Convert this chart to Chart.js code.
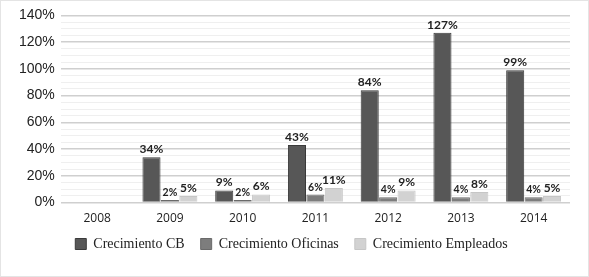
<!DOCTYPE html>
<html>
<head>
<meta charset="utf-8">
<script src="https://cdn.jsdelivr.net/npm/chart.js@4/dist/chart.umd.min.js"></script>
<style>
  html, body { margin: 0; padding: 0; background: #fff; }
  #wrap { position: relative; width: 589px; height: 277px; box-sizing: border-box; border: 1px solid #e4e4e4; }
</style>
</head>
<body>
<div id="wrap"><canvas id="c"></canvas></div>
<script>
const years = ["2008", "2009", "2010", "2011", "2012", "2013", "2014"];
const crecimientoCB = [null, 34, 9, 43, 84, 127, 99];
const crecimientoOficinas = [null, 2, 2, 6, 4, 4, 4];
const crecimientoEmpleados = [null, 5, 6, 11, 9, 8, 5];

// dibuja los porcentajes encima de cada barra
const barLabels = {
    id: "barLabels",
    afterDatasetsDraw(chart) {
        const ctx = chart.ctx;
        ctx.save();
        ctx.fillStyle = "#222";
        ctx.textAlign = "center";
        ctx.textBaseline = "bottom";
        chart.data.datasets.forEach((ds, i) => {
            const meta = chart.getDatasetMeta(i);
            ctx.font = (i === 1 ? "bold 10.5px" : "bold 12px") + " Lato, sans-serif";
            meta.data.forEach((bar, j) => {
                const v = ds.data[j];
                if (v === null) return;
                ctx.fillText(v + "%", bar.x, bar.y - 2);
            });
        });
        ctx.restore();
    },
};

// la leyenda necesita más espacio horizontal que vertical: se sube un poco
const legendShift = {
    id: "legendShift",
    afterLayout(chart) {
        chart.legend.top -= 14;
        chart.legend.bottom -= 14;
    },
};

new Chart(document.getElementById("c"), {
    type: "bar",
    data: {
        labels: years,
        datasets: [
            {
                label: "Crecimiento CB",
                data: crecimientoCB,
                backgroundColor: "#575757",
                borderColor: "#3a3a3a",
                borderWidth: 1,
            },
            {
                label: "Crecimiento Oficinas",
                data: crecimientoOficinas,
                backgroundColor: "#7d7d7d",
                borderColor: "#6a6a6a",
                borderWidth: 1,
            },
            {
                label: "Crecimiento Empleados",
                data: crecimientoEmpleados,
                backgroundColor: "#d2d2d2",
                borderColor: "#c6c6c6",
                borderWidth: 1,
            },
        ],
    },
    options: {
        animation: false,
        maintainAspectRatio: false,
        responsive: true,
        layout: { padding: { top: 8, right: 18, left: 12, bottom: 1 } },
        datasets: {
            bar: { categoryPercentage: 0.76, barPercentage: 0.98 },
        },
        plugins: {
            tooltip: { enabled: false },
            legend: {
                position: "bottom",
                maxHeight: 40,
                labels: {
                    font: { family: "'Liberation Serif', serif", size: 14 },
                    color: "#222",
                    boxWidth: 11,
                    boxHeight: 11,
                    padding: 16,
                },
            },
        },
        scales: {
            x: {
                grid: { display: false, drawTicks: false },
                border: { display: false },
                ticks: {
                    font: { family: "'Open Sans', sans-serif", size: 12 },
                    color: "#222",
                    padding: 9,
                },
            },
            y: {
                min: 0,
                max: 140,
                border: { display: false },
                grid: {
                    color: (c) => (c.tick && c.tick.value % 20 === 0 ? "#cfcfcf" : "#efefef"),
                    lineWidth: (c) => (c.tick && c.tick.value % 20 === 0 ? 1.5 : 1),
                    drawTicks: false,
                },
                ticks: {
                    stepSize: 5,
                    autoSkip: false,
                    padding: 6,
                    font: { family: "'Liberation Sans', Arial, sans-serif", size: 14 },
                    color: "#222",
                    callback: (v) => (v % 20 === 0 ? v + "%" : ""),
                },
            },
        },
    },
    plugins: [barLabels, legendShift],
});
</script>
</body>
</html>
